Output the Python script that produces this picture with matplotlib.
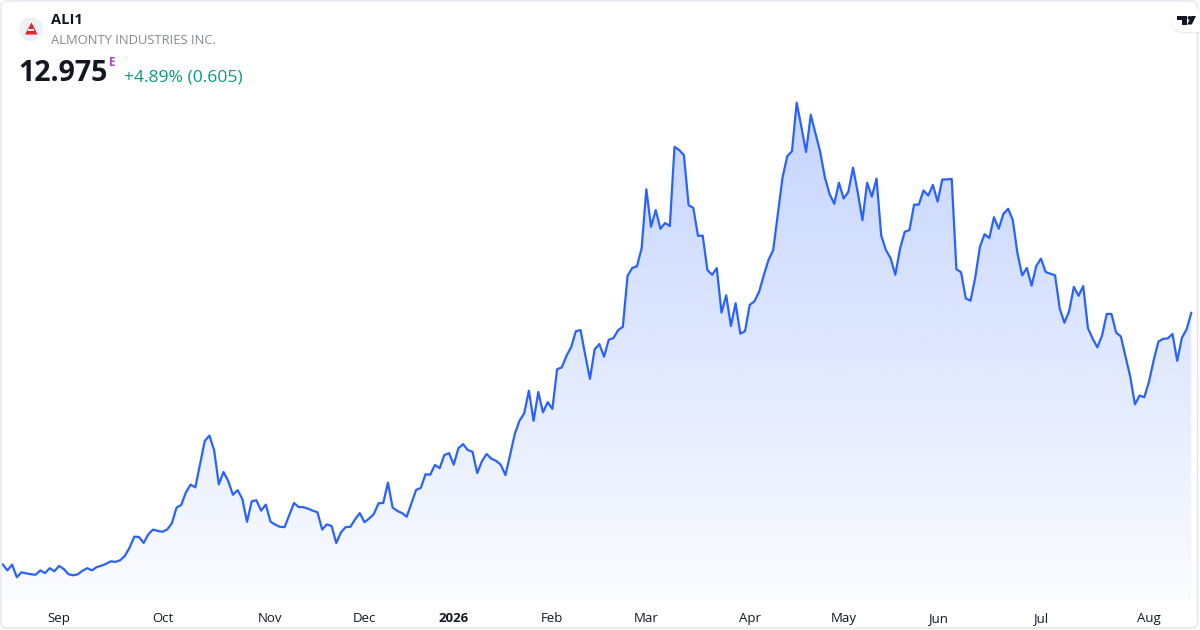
import numpy as np
import matplotlib
matplotlib.use("Agg")
import matplotlib.pyplot as plt
import matplotlib.colors as mcolors
from matplotlib import font_manager as fm
from matplotlib.patches import FancyBboxPatch, Circle, Polygon, Rectangle


def pick_family(cands):
    for fam in cands:
        try:
            path = fm.findfont(fm.FontProperties(family=fam, weight="bold"),
                               fallback_to_default=False)
        except Exception:
            continue
        if "bold" in path.lower():
            return fam
    return "DejaVu Sans"


FAMILY = pick_family(["Open Sans", "Noto Sans", "Roboto", "Lato"])
plt.rcParams['font.family'] = [FAMILY, 'DejaVu Sans']

# ---------------- data (daily close) ----------------
symbol = "ALI1"
company = "ALMONTY INDUSTRIES INC."
last_price = "12.975"
change_text = "+4.89% (0.605)"

prices = [
    # Aug - Oct 2025
    3.79, 3.57, 3.78, 3.32, 3.50, 3.46, 3.43, 3.41, 3.57, 3.47,
    3.65, 3.54, 3.73, 3.62, 3.43, 3.39, 3.43, 3.56, 3.65, 3.57,
    3.69, 3.74, 3.81, 3.90, 3.88, 3.94, 4.10, 4.40, 4.80, 4.79,
    4.57, 4.89, 5.06, 5.01, 4.98, 5.06, 5.29, 5.86, 5.96, 6.42,
    6.70, 6.60, 7.45, 8.29, 8.49, 7.96, 6.71, 7.16, 6.83, 6.33,
    6.50, 6.18, 5.34, 6.09,
    # Oct 2025 - Jan 2026
    6.13, 5.75, 5.97, 5.35, 5.24, 5.16, 5.15, 5.59, 6.03, 5.88,
    5.88, 5.82, 5.75, 5.69, 5.06, 5.25, 5.19, 4.57, 4.96, 5.15,
    5.16, 5.43, 5.66, 5.33, 5.46, 5.63, 6.02, 6.03, 6.77, 5.86,
    5.74, 5.66, 5.53, 6.02, 6.51, 6.58, 7.08, 7.06, 7.42, 7.30,
    7.78, 7.85, 7.43, 8.03, 8.18, 7.96, 7.90, 7.12, 7.55, 7.82,
    7.65, 7.57, 7.43, 7.05,
    # Jan - Apr 2026
    7.78, 8.55, 9.03, 9.30, 10.13, 9.03, 10.08, 9.34, 9.71, 9.46,
    10.91, 10.98, 11.40, 11.72, 12.30, 12.34, 11.43, 10.56, 11.64, 11.83,
    11.37, 11.99, 12.05, 12.34, 12.46, 14.32, 14.61, 14.67, 15.33, 17.48,
    16.11, 16.72, 16.04, 16.25, 16.14, 19.03, 18.91, 18.73, 16.90, 16.80,
    15.78, 15.79, 14.53, 14.36, 14.60, 12.98, 13.61, 12.49, 13.32, 12.21,
    12.30, 13.26,
    # Apr - Jun 2026
    13.39, 13.74, 14.34, 14.90, 15.26, 16.60, 17.92, 18.69, 18.87, 20.64,
    19.76, 18.84, 20.20, 19.52, 18.85, 17.92, 17.31, 16.95, 17.72, 17.14,
    17.39, 18.27, 17.37, 16.35, 17.72, 17.21, 17.87, 15.79, 15.26, 14.96,
    14.36, 15.31, 15.93, 15.99, 16.92, 16.92, 17.44, 17.25, 17.64, 17.03,
    17.84, 17.84, 17.86, 14.56, 14.45, 13.50, 13.41, 14.25, 15.38, 15.84,
    15.70,
    # Jun - Aug 2026
    16.46, 16.04, 16.58, 16.77, 16.36, 15.14, 14.34, 14.61, 13.96, 14.68,
    14.95, 14.46, 14.40, 14.34, 13.12, 12.61, 13.03, 13.92, 13.59, 13.95,
    12.41, 12.03, 11.71, 12.14, 12.93, 12.93, 12.25, 12.11, 11.37, 10.64,
    9.63, 9.95, 9.89, 10.46, 11.25, 11.92, 12.02, 12.04, 12.20, 11.22,
    12.06, 12.37, 12.975,
]

# trading-day index where each month label sits
tick_index = [12, 34, 57, 77, 96, 117, 137, 159, 179, 199, 221, 244]
tick_labels = ["Sep", "Oct", "Nov", "Dec", "2026", "Feb", "Mar", "Apr",
               "May", "Jun", "Jul", "Aug"]

# ---------------- figure ----------------
W, H = 1200, 630
fig = plt.figure(figsize=(W / 100, H / 100), dpi=100)
fig.patch.set_facecolor("white")

line_color = "#2962ff"
x = np.arange(len(prices))
y = np.array(prices)

ax = fig.add_axes([1 / W, 30 / H, 1198 / W, 600 / H])
ax.set_facecolor("none")
for s in ax.spines.values():
    s.set_visible(False)

x_lo, x_hi = -0.362, 254.64
y_lo, y_hi = 2.489, 24.389
ax.set_xlim(x_lo, x_hi)
ax.set_ylim(y_lo, y_hi)
ax.set_yticks([])

# gradient area fill
poly = ax.fill_between(x, y, y_lo, facecolor="none", edgecolor="none")
path = poly.get_paths()[0]
n = 256
grad = np.zeros((n, 1, 4))
grad[..., :3] = mcolors.to_rgb(line_color)
grad[..., 3] = np.linspace(0.02, 0.28, n)[:, None]
grad_top = 21.1
im = ax.imshow(grad, extent=[x_lo, x_hi, y_lo, grad_top], origin="lower",
               aspect="auto", interpolation="bilinear", zorder=2)
im.set_clip_path(path, transform=ax.transData)
ax.set_xlim(x_lo, x_hi)
ax.set_ylim(y_lo, y_hi)

ax.plot(x, y, color=line_color, lw=1.6, solid_joinstyle="round",
        solid_capstyle="round", zorder=3)

ax.set_xticks(tick_index, tick_labels)
ax.tick_params(axis="x", length=0, pad=8.5, labelsize=9.5, labelcolor="#131722")
for lab in ax.get_xticklabels():
    if lab.get_text() == "2026":
        lab.set_fontweight("bold")

# ---------------- decorations in pixel coordinates ----------------
deco = fig.add_axes([0, 0, 1, 1], zorder=5)
deco.set_xlim(0, W)
deco.set_ylim(H, 0)
deco.axis("off")
deco.patch.set_alpha(0)

# card border
deco.add_patch(FancyBboxPatch((1, 1), W - 3.5, H - 3, boxstyle="round,pad=0,rounding_size=6",
                              fc="none", ec="#e0e3eb", lw=0.9))

# company logo
deco.add_patch(Circle((31, 29), 12, fc="#eef0f6", ec="none"))
deco.add_patch(Polygon([(31.5, 22.5), (37.5, 34.5), (25, 34.5)], closed=True,
                       fc="#e8222f", ec="none"))
deco.add_patch(Rectangle((27.5, 29.2), 6.2, 1.8, fc="#eef0f6", ec="none"))

# header text
deco.text(51, 20.5, symbol, fontsize=10.5, fontweight="bold", color="#131722",
          va="center", ha="left")
deco.text(51, 40.5, company, fontsize=9.35, color="#868993", va="center", ha="left")
deco.text(18.5, 81, last_price, fontsize=20.5, fontweight="bold", color="#131722",
          va="baseline", ha="left")
deco.text(108.5, 62, "E", fontsize=8.5, fontweight="bold", color="#ab47bc",
          va="center", ha="left")
deco.text(124, 81, change_text, fontsize=12.6, color="#089981", va="baseline", ha="left")

# TradingView badge
deco.add_patch(FancyBboxPatch((1171, 10), 40, 23.5, boxstyle="round,pad=0,rounding_size=11.5",
                              fc="#000000", ec="none", alpha=0.06))
deco.add_patch(FancyBboxPatch((1171.5, 9.5), 40, 22.5, boxstyle="round,pad=0,rounding_size=11",
                              fc="white", ec="none"))
deco.add_patch(Rectangle((1176.5, 16), 10, 3.6, fc="#131722", ec="none"))
deco.add_patch(Rectangle((1181.5, 16), 5, 8.5, fc="#131722", ec="none"))
deco.add_patch(Circle((1189.5, 17.9), 1.9, fc="#131722", ec="none"))
deco.add_patch(Polygon([(1191.4, 16), (1196, 16), (1191.8, 24.5), (1187.2, 24.5)], closed=True,
                       fc="#131722", ec="none"))

fig.savefig("out.png", dpi=100, facecolor="white")
